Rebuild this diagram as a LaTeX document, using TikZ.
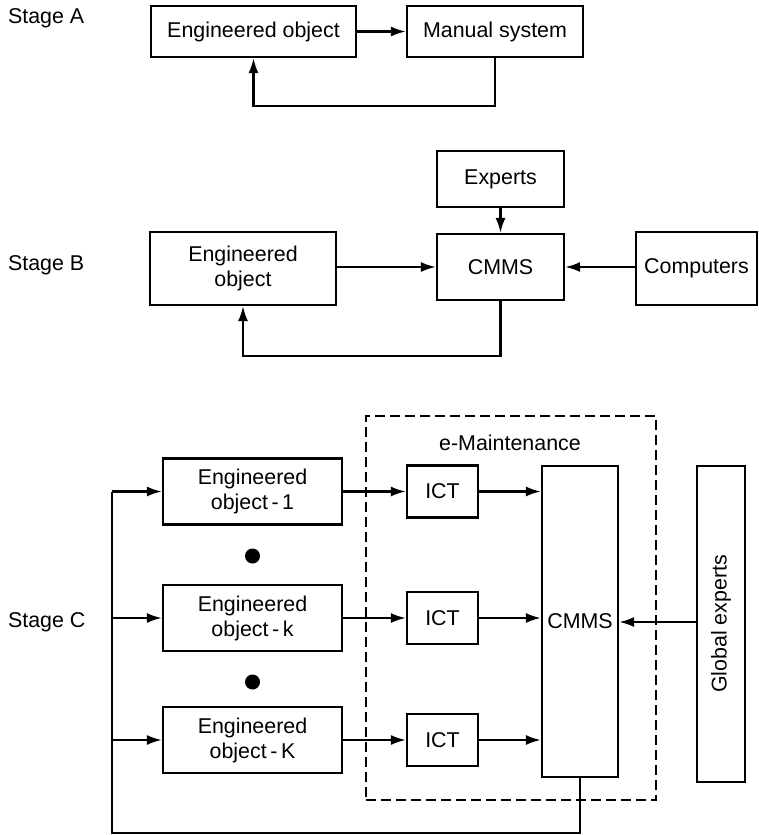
\documentclass[tikz,border=0pt]{standalone}
\usepackage{fontspec}
\setmainfont{Liberation Sans}
\usetikzlibrary{arrows.meta}

\begin{document}
\begin{tikzpicture}[x=0.5pt, y=-0.5pt, line width=1.1pt, >={Latex[length=7.5pt,width=5pt]}, every node/.style={font=\fontsize{10.7}{12.5}\selectfont}]
    \tikzstyle{block}=[draw, line width=1.1pt, inner sep=0pt, align=center]  % plain boxes
    \tikzstyle{stage}=[anchor=west, inner sep=0pt]
    \tikzstyle{dot}=[circle, fill, inner sep=0pt, minimum size=7.5pt]

    \useasboundingbox (0,0) rectangle (759,835);

    % Stage A
    \node[stage] (sa) at (7,18) {Stage A};
    \node[block, minimum width=102.5pt, minimum height=25.5pt] (engA) at (253.5,31.5) {Engineered object};
    \node[block, minimum width=88pt, minimum height=25.5pt] (manA) at (495,31.5) {Manual system};
    \coordinate (loopA) at (253.5,106);

    \draw[->] (engA) -- (manA);
    \draw[->] (manA.south) |- (loopA) -- (engA.south);

    % Stage B
    \node[stage] (sb) at (7,265) {Stage B};
    \node[block, minimum width=63.5pt, minimum height=28pt] (expB) at (500.5,179) {Experts};
    \node[block, minimum width=63.5pt, minimum height=33pt] (cmmsB) at (500.5,267) {CMMS};
    \node[block, minimum width=93pt, minimum height=36.5pt] (engB) at (243,268.5) {Engineered\\object};
    \node[block, minimum width=60.5pt, minimum height=36.5pt] (compB) at (696.5,268.5) {Computers};
    \coordinate (loopB) at (243,356);

    \draw[->] (expB) -- (cmmsB);
    \draw[->] (engB.east |- cmmsB) -- (cmmsB.west);
    \draw[->] (compB.west |- cmmsB) -- (cmmsB.east);
    \draw[->] (cmmsB.south) |- (loopB) -- (engB.south);

    % Stage C
    \node[stage] (sc) at (7,622) {Stage C};
    \node[draw, line width=1pt, dash pattern=on 5pt off 2.5pt, inner sep=0pt, minimum width=145pt, minimum height=192pt] (emaint) at (511,608) {};
    \node (emaintlbl) at (510,443) {e-Maintenance};
    \node[block, minimum width=38pt, minimum height=155.5pt] (cmmsC) at (580,621.5) {CMMS};
    \node[block, rotate=90, minimum width=158pt, minimum height=24pt] (glob) at (721,624) {Global experts};

    % one row per engineered object
    \foreach \n/\y in {1/491.5, k/618, K/740}
    {
        \node[block, minimum width=89.5pt, minimum height=33pt] (eng-\n) at (252.5,\y) {Engineered\\object\,-\,\n};
        \node[block, minimum width=35.5pt, minimum height=26pt] (ict-\n) at (442.5,\y) {ICT};
        \coordinate (left-\n) at (112,\y);
        \draw[->] (left-\n) -- (eng-\n.west);
        \draw[->] (eng-\n.east) -- (ict-\n.west);
        \draw[->] (ict-\n.east) -- (ict-\n.east -| cmmsC.west);
    }

    % dots between the rows
    \node[dot] (dot-1) at (252.5,556) {};
    \node[dot] (dot-2) at (252.5,682) {};

    % glob.north is its left side once rotated
    \draw[->] (glob.north |- 0,622) -- (cmmsC.east |- 0,622);

    % feedback to all objects
    \coordinate (loopC) at (112,833);
    \draw (cmmsC.south) |- (loopC) -- (left-1);
\end{tikzpicture}
\end{document}
